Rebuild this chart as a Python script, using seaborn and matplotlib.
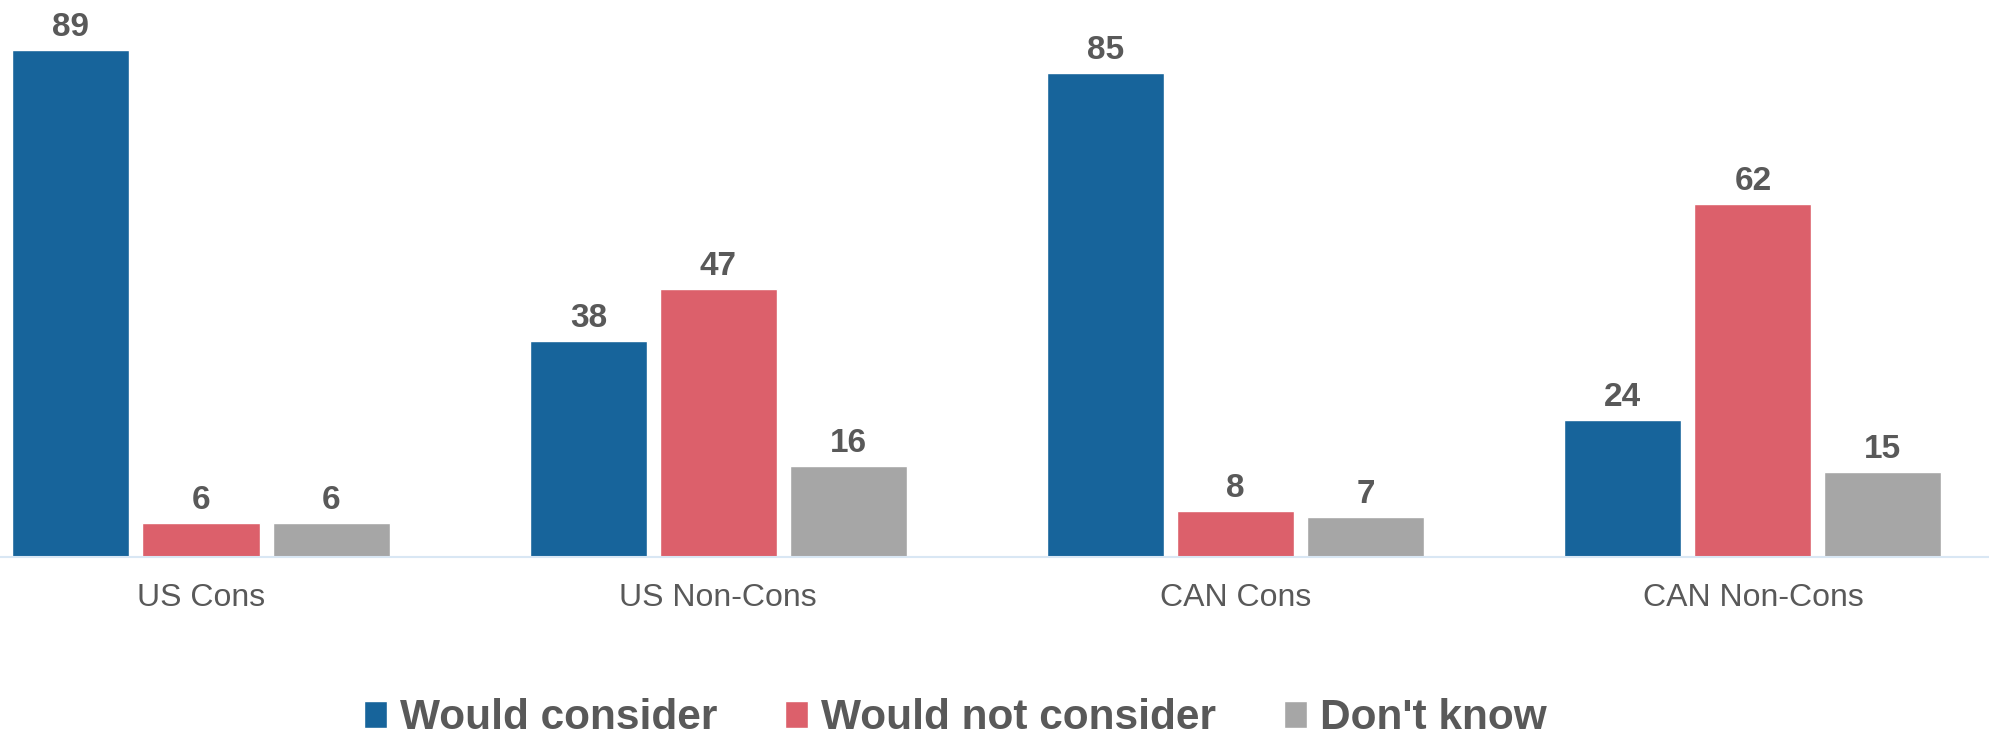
import matplotlib
matplotlib.use("Agg")
import matplotlib.pyplot as plt
import seaborn as sns
import pandas as pd

# Survey responses by group (percent)
groups = ["US Cons", "US Non-Cons", "CAN Cons", "CAN Non-Cons"]
responses = ["Would consider", "Would not consider", "Don't know"]
would_consider = [89, 38, 85, 24]
would_not_consider = [6, 47, 8, 62]
dont_know = [6, 16, 7, 15]

colors = ["#17649b", "#dc606b", "#a6a6a6"]
text_color = "#595959"

df = pd.DataFrame({
    "group": groups * 3,
    "response": [responses[0]] * 4 + [responses[1]] * 4 + [responses[2]] * 4,
    "value": would_consider + would_not_consider + dont_know,
})

sns.set_theme(style="white")
plt.rcParams["font.family"] = ["Liberation Sans", "DejaVu Sans"]

W, H = 1990, 737
fig = plt.figure(figsize=(W / 100, H / 100), dpi=100)
ax = fig.add_axes([0, (H - 557) / H, 1, 557 / H])

sns.barplot(
    data=df, x="group", y="value", hue="response", order=groups,
    hue_order=responses, palette=colors, width=0.754, gap=0.1,
    saturation=1, errorbar=None, ax=ax,
)

for container in ax.containers:
    ax.bar_label(container, padding=5, fontsize=24, fontweight="bold",
                 color=text_color)

ax.set_xlim(-201 / 517.3, (W - 201) / 517.3)
ax.set_ylim(0, 557 / 5.697)
ax.set_xlabel("")
ax.set_ylabel("")
ax.set_yticks([])
ax.tick_params(axis="x", length=0, pad=19, labelsize=23, labelcolor=text_color)

for side in ["top", "right", "left"]:
    ax.spines[side].set_visible(False)
ax.spines["bottom"].set_color("#d9e7f4")
ax.spines["bottom"].set_linewidth(1.5)

handles, labels = ax.get_legend_handles_labels()
ax.get_legend().remove()
fig.legend(
    handles, labels, loc="center", bbox_to_anchor=(955 / W, 1 - 718 / H),
    ncol=3, frameon=False, handlelength=0.55, handleheight=0.6,
    handletextpad=0.3, columnspacing=1.6, borderpad=0, borderaxespad=0,
    prop={"size": 30.5, "weight": "bold"}, labelcolor=text_color,
)

fig.savefig("out.png", dpi=100)
